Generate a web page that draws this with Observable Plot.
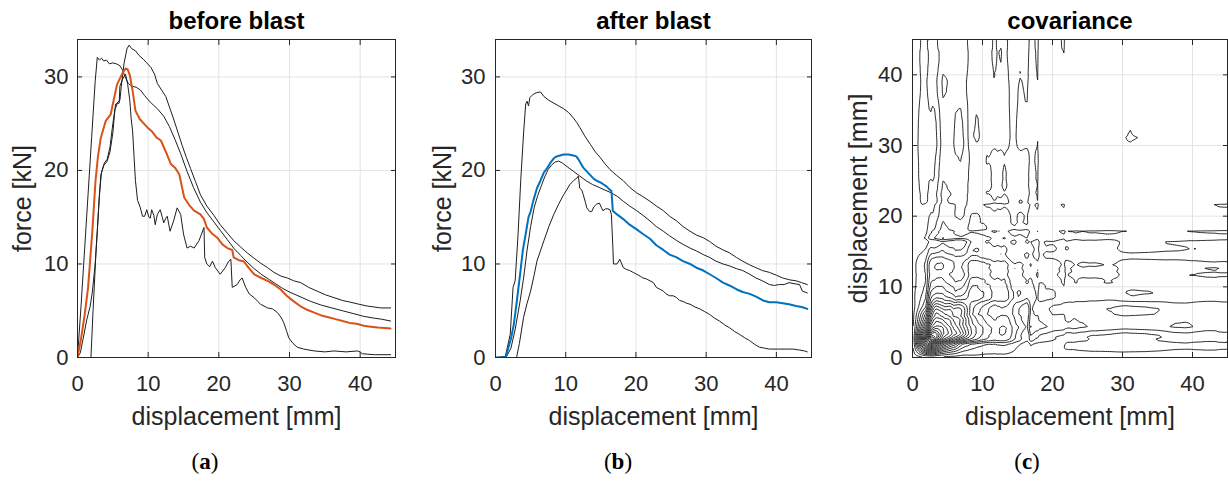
<!DOCTYPE html>
<html><head><meta charset="utf-8">
<script src="https://cdn.jsdelivr.net/npm/d3@7"></script>
<script src="https://cdn.jsdelivr.net/npm/@observablehq/plot@0.6"></script>
<style>
body{margin:0;background:#fff;}
#root{position:relative;width:1228px;height:481px;overflow:hidden;font-family:"Liberation Sans",Arial,sans-serif;background:#fff;}
.panel{position:absolute;top:0;}
.cap{position:absolute;top:449px;font-family:"Liberation Serif","Times New Roman",serif;font-size:23px;color:#000;transform:translateX(-50%);white-space:nowrap;}
.cap b{font-weight:bold;}
</style></head><body><div id="root">
<div class="panel" id="pa" style="left:0px"></div>
<div class="panel" id="pb" style="left:410px"></div>
<div class="panel" id="pc" style="left:820px"></div>
<div class="cap" style="left:205px">(<b>a</b>)</div>
<div class="cap" style="left:618px">(<b>b</b>)</div>
<div class="cap" style="left:1027px">(<b>c</b>)</div>
</div>
<script>
// ---------- data: displacement [mm], force [kN] ----------
const xTicks = [0, 10, 20, 30, 40];
const forceTicks = [0, 10, 20, 30];
const dispTicks = [0, 10, 20, 30, 40];
const titles = ["before blast", "after blast", "covariance"];

// before blast: individual tests
const before1 = [[0,0],[0.5,5.5],[1,11.5],[1.5,17.5],[2,23.5],[2.5,29.5],[2.8,32.1],[3.1,31.8],[3.4,32.0],[3.7,31.7],[4.1,31.8],[4.5,31.4],[5.0,31.5],[5.5,31.4],[6.0,31.2],[6.4,30.7],[6.8,29.9],[7.2,29.3],[7.7,29.0],[8.3,28.9],[8.9,28.6],[9.5,28.0],[10.3,27.3],[11.3,26.6],[12.2,25.8],[13.0,24.7],[13.8,23.3],[14.6,21.8],[15.5,19.9],[16.4,18.2],[17.4,16.6],[18.3,15.5],[19.3,14.5],[20.2,13.6],[21.2,12.6],[22.1,11.7],[23.1,10.9],[24.0,10.2],[25.0,9.5],[26.0,8.9],[27.0,8.4],[28.0,7.9],[29.0,7.4],[30.0,7.0],[31.5,6.5],[33.0,6.0],[34.5,5.6],[36.0,5.3],[37.5,5.0],[39.0,4.7],[40.5,4.4],[42.0,4.2],[43.0,4.1],[44.3,3.9]];
const before2 = [[0,0],[1.9,0],[2.2,5],[2.6,11],[3.0,16],[3.3,19.5],[3.7,20.5],[4.2,21],[4.6,22],[5.0,24],[5.3,26.5],[5.7,27.3],[6.0,27.5],[6.2,29],[6.6,31.5],[7.0,33.0],[7.3,33.4],[7.7,33.0],[8.2,32.8],[8.7,32.3],[9.3,31.9],[9.8,31.5],[10.4,31.0],[10.9,30.3],[11.3,29.3],[11.9,28.6],[12.5,27.9],[13.0,26.8],[13.6,25.5],[14.2,24.1],[14.8,22.7],[15.4,21.4],[16.0,20.2],[16.7,18.8],[17.4,17.4],[18.3,16.2],[19.3,15.2],[20.2,14.2],[21.2,13.3],[22.1,12.5],[23.1,11.8],[24.0,11.2],[25.0,10.6],[25.9,10.1],[26.9,9.6],[27.8,9.1],[28.8,8.7],[29.7,8.5],[30.6,8.2],[31.6,8.0],[32.7,7.5],[33.9,7.1],[35.1,6.7],[36.3,6.4],[37.5,6.1],[38.7,5.9],[39.8,5.7],[41.0,5.5],[42.0,5.4],[42.9,5.3],[44.3,5.3]];
const before3 = [[0,0],[0.4,0.5],[0.8,2],[1.3,4],[1.8,5.5],[2.1,7],[2.5,10],[2.8,13.5],[3.1,17.5],[3.4,19.8],[3.8,20.8],[4.2,21.2],[4.6,22.5],[5.0,25],[5.4,27.1],[5.9,27.2],[6.0,29.0],[6.4,29.8],[6.8,30.3],[7.1,29.2],[7.4,27.5],[7.6,25.5],[7.8,24.2],[8.0,21.5],[8.2,18.9],[8.5,16.8],[8.9,16.0],[9.2,15.1],[9.5,15.1],[9.8,15.8],[10.1,15.0],[10.3,14.9],[10.5,15.8],[10.8,15.2],[11.0,14.2],[11.3,15.3],[11.7,15.8],[12.0,15.0],[12.2,14.4],[12.5,14.9],[12.7,15.1],[13.1,13.5],[13.6,14.6],[14.1,16.0],[14.6,15.3],[15.0,13.2],[15.5,11.7],[16.0,11.9],[16.5,11.7],[17.2,12.5],[17.9,13.9],[18.0,10.7],[18.3,10.0],[18.7,9.7],[19.1,10.3],[19.5,9.6],[20.2,8.9],[20.9,9.6],[21.4,10.3],[21.7,10.5],[21.9,7.5],[22.6,7.8],[23.0,8.3],[23.3,8.5],[23.8,7.5],[24.3,6.8],[25.0,6.4],[25.5,6.0],[25.9,5.7],[26.9,5.3],[27.6,5.2],[28.3,4.8],[28.8,4.3],[29.2,3.7],[29.6,2.8],[29.9,2.1],[30.5,1.5],[31.1,1.1],[32.0,0.9],[33.5,0.7],[35.0,0.6],[36.3,0.7],[38.0,0.6],[39.6,0.7],[40.0,0.6],[40.3,0.4],[42.0,0.3],[44.3,0.3]];
const beforeMean = [[0,0],[0.5,2],[1,4.5],[1.5,7.5],[2.1,13.5],[2.55,18.9],[2.9,21.5],[3.3,23.5],[4.0,25.3],[4.7,26.0],[5.2,27.8],[5.6,29.2],[6.3,30.3],[6.8,30.9],[7.1,30.8],[7.4,30.2],[7.8,28.5],[8.2,26.4],[8.8,25.5],[9.4,25.0],[9.9,24.6],[10.5,24.2],[11.2,23.5],[11.8,23.2],[12.5,22.0],[13.2,20.7],[13.8,20.3],[14.4,19.6],[15.1,17.1],[15.8,16.3],[16.5,15.7],[17.4,15.3],[17.9,14.8],[18.3,13.9],[19.1,13.2],[19.8,12.8],[20.5,12.1],[21.2,11.7],[21.9,11.5],[22.1,10.7],[22.8,10.4],[23.5,10.3],[24.2,9.6],[25.0,8.9],[26.0,8.5],[26.9,8.2],[27.8,7.8],[28.7,7.3],[29.6,6.6],[30.6,6.0],[31.5,5.5],[32.5,5.1],[33.5,4.8],[34.5,4.5],[35.5,4.3],[36.5,4.1],[37.5,3.9],[38.5,3.7],[39.5,3.6],[40.5,3.4],[41.5,3.3],[42.5,3.2],[43.5,3.15],[44.3,3.1]];

// after blast: individual tests
const after1 = [[0,0],[1.4,0.1],[2.1,2.5],[2.5,7.5],[2.8,8.2],[3.2,13],[3.6,19],[4.0,24],[4.3,27.1],[4.5,27.4],[4.7,26.9],[4.9,27.8],[5.3,28.1],[5.8,28.3],[6.4,28.4],[6.9,27.9],[7.6,27.5],[8.3,27.2],[9.0,26.9],[9.7,26.6],[10.4,26.2],[11.1,25.6],[11.6,25.1],[12.0,24.6],[12.7,23.7],[13.5,22.8],[14.2,22.0],[14.9,21.4],[15.6,20.7],[16.3,20.1],[17.2,19.5],[18.2,18.9],[19.1,18.2],[20.1,17.6],[21.0,17.2],[22.0,16.7],[22.9,16.2],[23.9,15.7],[24.8,15.1],[25.8,14.6],[26.7,14.0],[27.7,13.5],[28.6,13.1],[29.6,12.8],[30.5,12.4],[31.4,11.9],[32.4,11.5],[33.3,11.2],[34.3,10.7],[35.2,10.3],[36.2,9.9],[37.1,9.6],[38.0,9.3],[39.0,9.1],[40.0,8.8],[40.9,8.5],[41.9,8.3],[42.8,8.2],[43.6,8.0],[44.4,7.8]];
const after2 = [[0,0],[1.5,0],[2.2,1],[2.8,3],[3.5,6],[4.0,8.5],[4.5,11.5],[5.0,14],[5.5,16],[6.0,17.3],[6.5,18.3],[7.0,19.3],[7.5,20.1],[8.0,20.6],[8.5,20.9],[9.0,21.0],[9.5,20.8],[10.2,20.4],[11.1,19.9],[12.0,19.4],[12.9,18.9],[13.8,18.5],[14.7,18.2],[15.6,17.9],[16.5,17.6],[17.4,17.2],[18.2,16.7],[19.1,16.2],[20.1,15.7],[21.0,15.2],[22.0,14.6],[22.9,14.0],[23.9,13.5],[24.8,13.0],[25.8,12.5],[26.7,12.1],[27.7,11.7],[28.6,11.4],[29.6,11.0],[30.5,10.7],[31.4,10.3],[32.4,10.0],[33.3,9.8],[34.3,9.5],[35.2,9.3],[36.2,8.9],[37.1,8.5],[38.0,8.2],[39.0,7.8],[39.7,7.7],[40.4,7.8],[41.1,7.8],[41.8,8.0],[42.5,7.9],[43.3,7.8],[43.7,7.1],[44.4,6.9]];
const after3 = [[0,0],[3.0,0],[3.4,1.5],[4.0,4.3],[4.5,5.8],[5.0,7.1],[5.5,8.8],[5.9,10.3],[6.4,11.4],[6.9,12.5],[7.6,14.0],[8.3,15.3],[9.0,16.4],[9.7,17.4],[10.2,18.0],[10.6,18.5],[11.1,18.9],[11.6,19.2],[11.8,19.4],[12.0,18.1],[12.3,17.9],[12.5,17.4],[12.8,16.6],[13.0,16.0],[13.4,15.6],[13.7,15.6],[14.0,16.1],[14.4,16.4],[14.8,16.5],[15.1,16.0],[15.3,15.7],[15.7,15.9],[16.0,15.9],[16.3,15.8],[16.5,15.3],[16.7,12.0],[16.8,10.0],[17.3,10.0],[17.7,10.5],[18.2,9.6],[18.7,9.4],[19.1,9.3],[19.6,9.1],[20.1,8.9],[20.6,8.7],[21.0,8.5],[21.5,8.4],[22.0,8.2],[22.5,8.0],[22.9,7.5],[23.4,7.3],[23.9,7.1],[24.3,6.8],[24.8,6.6],[25.3,6.6],[25.8,6.4],[26.2,6.1],[26.7,6.0],[27.2,5.8],[27.7,5.7],[28.4,5.4],[29.1,5.2],[29.8,4.9],[30.5,4.6],[31.2,4.2],[31.9,3.9],[32.6,3.5],[33.3,3.2],[34.0,2.8],[34.7,2.5],[35.5,2.1],[36.2,1.8],[36.9,1.4],[37.6,1.1],[38.3,1.0],[39.0,0.9],[40.2,0.9],[41.4,0.9],[42.4,0.9],[43.3,0.8],[44.0,0.7],[44.4,0.6]];
const afterMean = [[0,0],[1.4,0],[1.7,0.7],[2.2,2],[2.6,3.5],[3.0,5.8],[3.5,8.9],[3.9,11.5],[4.3,13.2],[4.7,15.0],[5.0,15.6],[5.4,16.8],[5.9,18.1],[6.4,18.9],[6.9,19.8],[7.4,20.3],[7.8,20.8],[8.3,21.3],[8.7,21.5],[9.2,21.6],[9.7,21.7],[10.4,21.7],[11.1,21.6],[11.5,21.5],[11.8,21.2],[12.2,20.7],[12.5,20.3],[13.0,19.9],[13.5,19.5],[14.0,19.1],[14.4,18.9],[15.0,18.7],[15.4,18.5],[15.8,18.3],[16.2,18.0],[16.5,17.8],[16.6,16.9],[16.7,15.7],[17.3,15.3],[18.2,14.8],[19.1,14.2],[20.1,13.7],[21.0,13.2],[22.0,12.7],[22.9,12.0],[23.9,11.5],[24.8,11.0],[25.8,10.7],[26.7,10.3],[27.7,10.0],[28.6,9.6],[29.6,9.3],[30.5,8.9],[31.4,8.5],[32.4,8.0],[33.3,7.7],[34.3,7.3],[35.2,7.0],[36.2,6.8],[37.1,6.5],[38.1,6.1],[39.0,5.9],[40.0,5.9],[40.9,5.8],[41.8,5.7],[42.8,5.5],[43.6,5.4],[44.4,5.2]];

// ---------- covariance surface derived from all six test curves ----------
function interp(c, x) {
  if (x <= c[0][0]) return c[0][1];
  if (x >= c[c.length - 1][0]) return c[c.length - 1][1];
  const i = d3.bisector(d => d[0]).right(c, x);
  const [x0, y0] = c[i - 1], [x1, y1] = c[i];
  return y0 + (y1 - y0) * (x - x0) / (x1 - x0);
}
const N = 180;
const gx = d3.range(N).map(i => (i + 0.5) * 45 / N);
const tests = [before1, before2, before3, after1, after2, after3];
const vals = tests.map(c => gx.map(x => interp(c, x)));
const mean = gx.map((_, i) => d3.mean(vals, v => v[i]));
const residuals = vals.map(v => v.map((y, i) => y - mean[i]));
const cov = new Float64Array(N * N);
for (let i = 0; i < N; i++) for (let j = 0; j < N; j++) {
  let s = 0;
  for (const r of residuals) s += r[i] * r[j];
  cov[i * N + j] = s / (tests.length - 1);
}
const vmax = d3.max(cov), vmin = d3.min(cov);
const step = vmax / 20;
const thresholds = d3.range(-step / 2, vmin, -step).reverse().concat(d3.range(step / 2, vmax, step));

// ---------- styling ----------
const ink = "#262626";
const gridColor = "#e3e3e3";
const lineColor = "#1e1e1e";

function panel({width, marginLeft, marginRight, yDomain, yTicks, title, ylabel, ylabelDx, ytickPad, marks}) {
  return Plot.plot({
    width, height: 440, marginLeft, marginRight, marginTop: 39, marginBottom: 83,
    x: {domain: [0, 45], label: null},
    y: {domain: yDomain, label: null},
    style: {fontFamily: "'Liberation Sans', Arial, sans-serif", fontSize: "22px", color: ink, background: "transparent", overflow: "visible"},
    marks: [
      Plot.gridX(xTicks, {stroke: gridColor, strokeOpacity: 1}),
      Plot.gridY(yTicks, {stroke: gridColor, strokeOpacity: 1}),
      ...marks,
      Plot.frame({stroke: ink, strokeWidth: 1}),
      Plot.axisX(xTicks, {tickSize: 0, tickPadding: 18, label: null, fill: ink}),
      Plot.axisX(xTicks, {tickSize: -5, tickFormat: () => "", label: null, stroke: ink}),
      Plot.axisX(xTicks, {anchor: "top", tickSize: -5, tickFormat: () => "", label: null, stroke: ink}),
      Plot.axisY(yTicks, {tickSize: 0, tickPadding: ytickPad, label: null, fill: ink}),
      Plot.axisY(yTicks, {tickSize: -5, tickFormat: () => "", label: null, stroke: ink}),
      Plot.axisY(yTicks, {anchor: "right", tickSize: -5, tickFormat: () => "", label: null, stroke: ink}),
      Plot.text([title], {frameAnchor: "top", dy: -18, fontSize: 24, fontWeight: "bold", fill: "#000", textAnchor: "middle", lineAnchor: "middle"}),
      Plot.text([ylabel], {frameAnchor: "left", dx: ylabelDx, rotate: -90, fontSize: 25, fill: ink, textAnchor: "middle", lineAnchor: "middle"}),
      Plot.text(["displacement [mm]"], {frameAnchor: "bottom", dy: 59, fontSize: 25, fill: ink, textAnchor: "middle", lineAnchor: "middle"})
    ]
  });
}
const L = (data, stroke, w) => Plot.line(data, {x: d => d[0], y: d => d[1], stroke, strokeWidth: w, clip: true});

document.getElementById("pa").append(panel({
  width: 410, marginLeft: 77, marginRight: 15, yDomain: [0, 34], yTicks: forceTicks,
  title: titles[0], ylabel: "force [kN]", ylabelDx: -55, ytickPad: 9,
  marks: [L(before1, lineColor, 1), L(before2, lineColor, 1), L(before3, lineColor, 1), L(beforeMean, "#D95319", 2)]
}));
document.getElementById("pb").append(panel({
  width: 410, marginLeft: 85, marginRight: 9, yDomain: [0, 34], yTicks: forceTicks,
  title: titles[1], ylabel: "force [kN]", ylabelDx: -53, ytickPad: 10,
  marks: [L(after1, lineColor, 1), L(after2, lineColor, 1), L(after3, lineColor, 1), L(afterMean, "#0072BD", 2)]
}));
document.getElementById("pc").append(panel({
  width: 408, marginLeft: 92, marginRight: 1, yDomain: [0, 45], yTicks: dispTicks,
  title: titles[2], ylabel: "displacement [mm]", ylabelDx: -54, ytickPad: 10,
  marks: [Plot.contour(cov, {width: N, height: N, x1: 0, x2: 45, y1: 0, y2: 45, thresholds, fill: "none", stroke: "#111", strokeWidth: 0.9, clip: true})]
}));
</script>
</body></html>
